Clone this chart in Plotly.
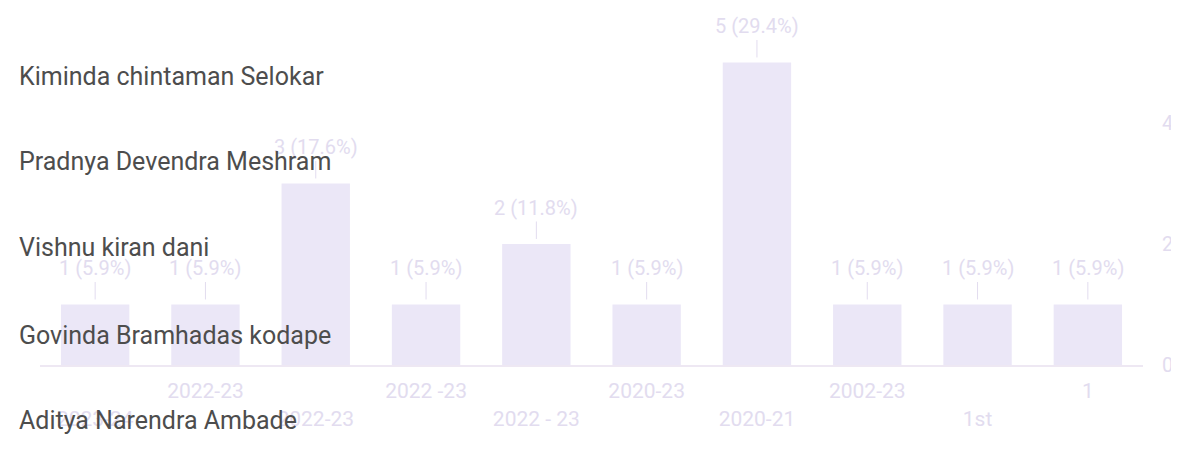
import plotly.graph_objects as go

# Respuestas (de derecha a izquierda en el escaneo, que sale en espejo)
categorias = ["1", "1st", "2002-23", "2020-21", "2020-23",
              "2022 - 23", "2022 -23", "2022-23", "2022-23", "2023-24"]
conteos = [1, 1, 1, 5, 1, 2, 1, 3, 1, 1]
porcentajes = ["5.9%", "5.9%", "5.9%", "29.4%", "5.9%",
               "11.8%", "5.9%", "17.6%", "5.9%", "5.9%"]

nombres = ["Kiminda chintaman Selokar", "Pradnya Devendra Meshram",
           "Vishnu kiran dani", "Govinda Bramhadas kodape",
           "Aditya Narendra Ambade"]

# la pagina tiene 8px de margen, asi que la figura se hace un poco mas chica
OFF = 8
W, H = 1179 - OFF, 452 - OFF
M_L, M_R, M_T, M_B = 32, 36, 0, 87
alto_plot = H - M_T - M_B
ancho_plot = W - M_L - M_R

tenue = "#e2dcef"
fondo = "#ffffff"
posiciones = list(range(len(categorias)))

# etiquetas del eje x escalonadas en dos filas
etiquetas_x = [c if i % 2 == 0 else "<br>" + c for i, c in enumerate(categorias)]

fig = go.Figure()

fig.add_trace(go.Bar(
    x=posiciones, y=conteos,
    marker_color="#ebe7f7", marker_line_width=0,
    width=0.62, hoverinfo="skip", showlegend=False
))

# etiquetas de valor con su linea conectora
for i, (c, p) in enumerate(zip(conteos, porcentajes)):
    fig.add_annotation(
        x=posiciones[i], y=c, text=f"{c} ({p})",
        showarrow=True, arrowhead=0, arrowwidth=1, arrowcolor=tenue,
        ax=0, ay=-36, standoff=5,
        font=dict(family="Roboto", size=20, color=tenue)
    )

# nombres escritos encima (pixeles del escaneo)
y_nombres = [77, 161, 247, 335, 421]
for nombre, ypx in zip(nombres, y_nombres):
    fig.add_annotation(
        xref="paper", yref="paper",
        x=(17 - OFF - M_L) / ancho_plot,
        y=(H - M_B - (ypx - OFF)) / alto_plot,
        xanchor="left", yanchor="middle", showarrow=False,
        text=nombre, font=dict(family="Roboto", size=25, color="#4d4d4d")
    )

fig.update_layout(
    width=W, height=H,
    margin=dict(l=M_L, r=M_R, t=M_T, b=M_B),
    paper_bgcolor=fondo, plot_bgcolor=fondo,
    xaxis=dict(
        tickmode="array", tickvals=posiciones, ticktext=etiquetas_x,
        autorange="reversed", showgrid=False, zeroline=False,
        showline=True, linecolor="#eee8f3", linewidth=2,
        ticks="", ticklabelstandoff=6,
        tickfont=dict(family="Roboto", size=21, color=tenue)
    ),
    yaxis=dict(
        range=[0, 5.9], dtick=2, side="right",
        showgrid=False, zeroline=False, showline=False,
        ticks="", ticklabelstandoff=18,
        tickfont=dict(family="Roboto", size=20, color=tenue)
    ),
)

fig.write_html("out.html")
